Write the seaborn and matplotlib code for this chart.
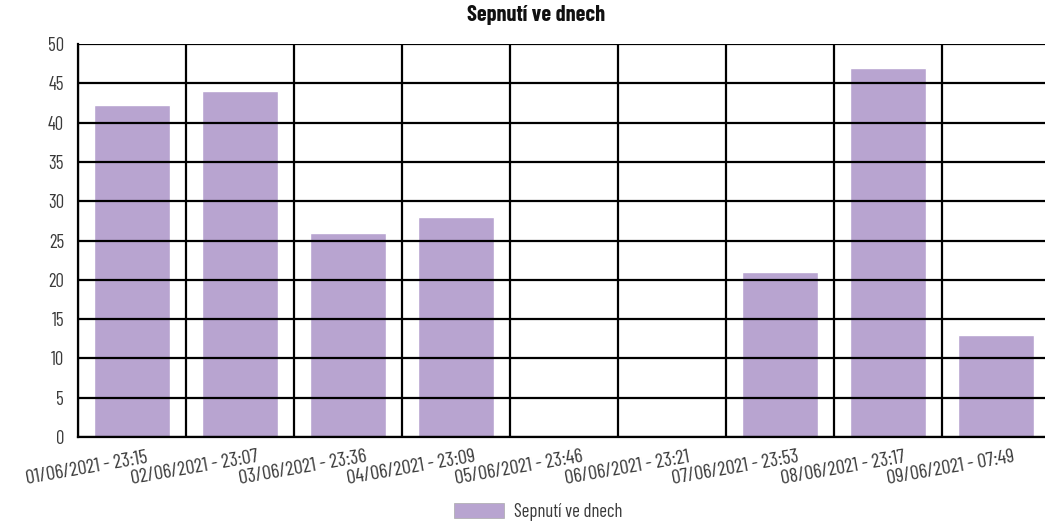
import numpy as np
import matplotlib
matplotlib.use("Agg")
import matplotlib.pyplot as plt
import matplotlib.patches as mpatches
import pandas as pd
import seaborn as sns

labels = ["01/06/2021 - 23:15", "02/06/2021 - 23:07", "03/06/2021 - 23:36",
          "04/06/2021 - 23:09", "05/06/2021 - 23:46", "06/06/2021 - 23:21",
          "07/06/2021 - 23:53", "08/06/2021 - 23:17", "09/06/2021 - 07:49"]
values = [42.2, 44, 26, 28, 0, 0, 21, 47, 13]
series_name = "Sepnutí ve dnech"
bar_color = "#b8a4d0"

sns.set_style("white")
plt.rcParams['font.family'] = ['Barlow Condensed', 'DejaVu Sans']

df = pd.DataFrame({"label": labels, "value": values})

fig = plt.figure(figsize=(10.45, 5.23), dpi=100)
ax = fig.add_axes([78 / 1045, 86 / 523, 972 / 1045, 393 / 523])

sns.barplot(data=df, x="label", y="value", color=bar_color, saturation=1,
            width=0.71, ax=ax, zorder=1)

ax.set_xlim(-0.5, len(labels) - 0.5)
ax.set_ylim(0, 50)
ax.set_yticks(np.arange(0, 51, 5))
ax.set_xticks(np.arange(len(labels)) - 0.5)
ax.set_xticklabels([])
ax.tick_params(axis="y", labelsize=13.5, labelcolor="#3a3a3a", pad=3)
ax.tick_params(axis="both", length=7, width=1.6, color="black", direction="out")

# category labels sit roughly centred under the tick at the left edge of each slot
for i, lab in enumerate(labels):
    ax.annotate(lab, xy=(i - 0.5, 0), xycoords=("data", "axes fraction"),
                xytext=(9, -31), textcoords="offset pixels",
                rotation=10, rotation_mode="anchor", ha="center", va="center",
                fontsize=14.5, color="#3a3a3a", annotation_clip=False)

ax.grid(True, color="black", linewidth=1.6, zorder=3)
ax.set_axisbelow(False)
for s in ["top", "right"]:
    ax.spines[s].set_visible(False)
for s in ["left", "bottom"]:
    ax.spines[s].set_color("black")
    ax.spines[s].set_linewidth(1.6)
ax.set_xlabel("")
ax.set_ylabel("")

fig.suptitle(series_name, x=536 / 1045, y=0.99, fontsize=16, fontweight="bold",
             color="#111111")

handle = mpatches.Patch(facecolor=bar_color, edgecolor="#aaaaaa", linewidth=0.5,
                        label=series_name)
fig.legend(handles=[handle], loc="center", bbox_to_anchor=(538 / 1045, 11 / 523),
           frameon=False, fontsize=13.5, handlelength=2.7, handleheight=0.9,
           handletextpad=0.5, labelcolor="#3a3a3a")

fig.savefig("out.png", dpi=100)
